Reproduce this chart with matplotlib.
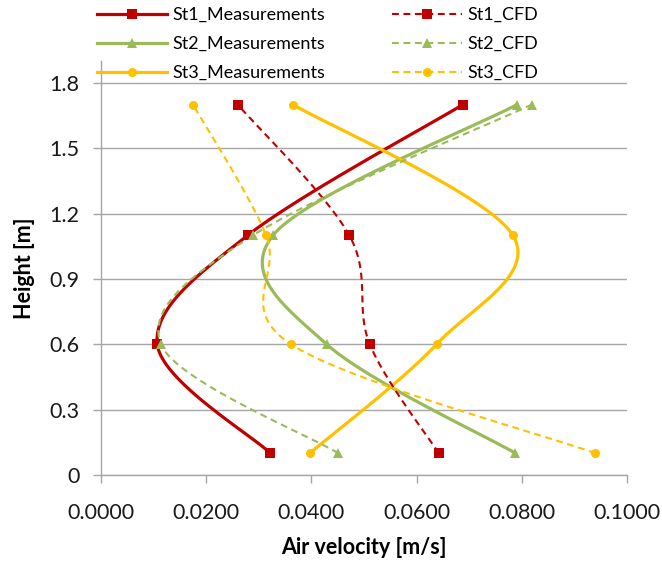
import numpy as np
import matplotlib
matplotlib.use("Agg")
import matplotlib.pyplot as plt
from matplotlib.lines import Line2D

plt.rcParams['font.family'] = ['Lato', 'DejaVu Sans']

# ---- data ----
heights = [0.1, 0.6, 1.1, 1.7]
st1_meas = [0.0322, 0.0107, 0.0279, 0.0688]
st2_meas = [0.0788, 0.0429, 0.0327, 0.0791]
st3_meas = [0.0397, 0.0638, 0.0783, 0.0365]
st1_cfd = [0.0642, 0.0511, 0.0472, 0.0260]
st2_cfd = [0.0451, 0.0114, 0.0289, 0.0819]
st3_cfd = [0.0940, 0.0361, 0.0314, 0.0175]

x_ticks = [0.0, 0.02, 0.04, 0.06, 0.08, 0.10]
x_tick_labels = ["0.0000", "0.0200", "0.0400", "0.0600", "0.0800", "0.1000"]
y_ticks = [0.0, 0.3, 0.6, 0.9, 1.2, 1.5, 1.8]
y_tick_labels = ["0", "0.3", "0.6", "0.9", "1.2", "1.5", "1.8"]

RED = '#C00000'
GREEN = '#9BBB59'
YELLOW = '#FFC000'
GRID = '#A6A6A6'

W, H = 662, 561
fig = plt.figure(figsize=(W / 100, H / 100), dpi=100)
ax = fig.add_axes([101 / W, 1 - 475 / H, 526 / W, 414 / H])
ax.set_xlim(0, 0.1)
ax.set_ylim(0, 1.9)


def smooth(xs, ys, n=40):
    pts = ax.transData.transform(np.column_stack([xs, ys]))
    P = np.vstack([pts[0], pts, pts[-1]])
    out = []
    t = np.linspace(0, 1, n)[:, None]
    for i in range(1, len(P) - 2):
        p0, p1, p2, p3 = P[i - 1], P[i], P[i + 1], P[i + 2]
        c1 = p1 + (p2 - p0) / 6.0
        c2 = p2 - (p3 - p1) / 6.0
        seg = (1 - t) ** 3 * p1 + 3 * (1 - t) ** 2 * t * c1 + 3 * (1 - t) * t ** 2 * c2 + t ** 3 * p2
        out.append(seg if i == 1 else seg[1:])
    curve = ax.transData.inverted().transform(np.vstack(out))
    return curve[:, 0], curve[:, 1]


series = [
    (st1_meas, RED, 's', 6.5, '-', 2.3, 'St1_Measurements'),
    (st2_meas, GREEN, '^', 7.3, '-', 2.3, 'St2_Measurements'),
    (st3_meas, YELLOW, 'o', 6.5, '-', 2.3, 'St3_Measurements'),
    (st1_cfd, RED, 's', 6.5, (0, (3.3, 2.2)), 1.5, 'St1_CFD'),
    (st2_cfd, GREEN, '^', 7.3, (0, (3.3, 2.2)), 1.5, 'St2_CFD'),
    (st3_cfd, YELLOW, 'o', 6.5, (0, (3.3, 2.2)), 1.5, 'St3_CFD'),
]

handles = []
for vals, col, mk, ms, ls, lw, lab in series:
    sx, sy = smooth(vals, heights)
    ax.plot(sx, sy, color=col, linestyle=ls, lw=lw, zorder=3)
    ax.plot(vals, heights, linestyle='none', marker=mk, markersize=ms,
            color=col, markeredgewidth=0, zorder=4)
    handles.append(Line2D([], [], color=col, linestyle=ls, lw=lw, marker=mk,
                          markersize=ms, markeredgewidth=0, label=lab))

# axes styling
for s in ['top', 'right']:
    ax.spines[s].set_visible(False)
for s in ['left', 'bottom']:
    ax.spines[s].set_color(GRID)
    ax.spines[s].set_linewidth(1.0)
ax.set_xticks(x_ticks)
ax.set_xticklabels(x_tick_labels)
ax.set_yticks(y_ticks)
ax.set_yticklabels(y_tick_labels)
ax.tick_params(axis='both', direction='out', length=5.5, width=1.0, color=GRID,
               labelsize=15.5, labelcolor='#1a1a1a')
ax.tick_params(axis='x', pad=15)
ax.tick_params(axis='y', pad=10)
ax.yaxis.grid(True, color=GRID, lw=1.0)
ax.set_axisbelow(True)

ax.set_xlabel('Air velocity [m/s]', fontsize=15.5, fontweight='bold', labelpad=10)
ax.set_ylabel('Height [m]', fontsize=15.5, fontweight='bold', labelpad=10)

leg_kw = dict(loc='upper left', frameon=False, fontsize=13, handlelength=3.9,
              handletextpad=0.25, labelspacing=0.72, borderpad=0, borderaxespad=0,
              numpoints=1)
leg1 = fig.legend(handles=handles[:3], bbox_to_anchor=(97 / W, 1 - 7 / H), **leg_kw)
leg2 = fig.legend(handles=handles[3:], bbox_to_anchor=(392 / W, 1 - 7 / H), **leg_kw)

fig.savefig('out.png', dpi=100, facecolor='white')
